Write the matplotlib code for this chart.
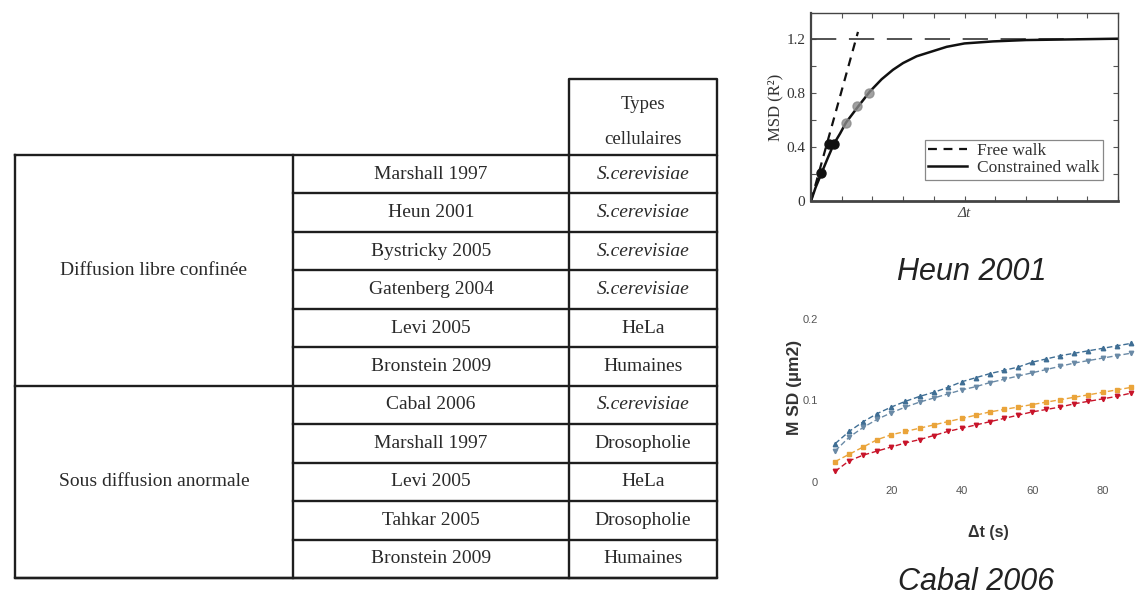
import matplotlib
matplotlib.use("Agg")
import matplotlib.pyplot as plt
from matplotlib.lines import Line2D

# ---------------- data ----------------
groups = ["Diffusion libre confinée", "Sous diffusion anormale"]
group_sizes = [6, 5]
studies = ["Marshall 1997", "Heun 2001", "Bystricky 2005", "Gatenberg 2004",
           "Levi 2005", "Bronstein 2009",
           "Cabal 2006", "Marshall 1997", "Levi 2005", "Tahkar 2005",
           "Bronstein 2009"]
cell_types = ["S.cerevisiae", "S.cerevisiae", "S.cerevisiae", "S.cerevisiae",
              "HeLa", "Humaines",
              "S.cerevisiae", "Drosopholie", "HeLa", "Drosopholie", "Humaines"]
header = "Types\ncellulaires"
italic_types = {"S.cerevisiae"}

# Heun 2001 panel
heun_t = [0, 0.15, 0.35, 0.55, 0.74, 0.95, 1.14, 1.54, 1.92, 2.3, 2.67, 3.0,
          3.44, 4.0, 4.42, 5.0, 5.93, 7.0, 8.5, 10]
heun_msd = [0, 0.10, 0.21, 0.32, 0.42, 0.50, 0.58, 0.70, 0.81, 0.90, 0.97,
            1.02, 1.07, 1.11, 1.14, 1.165, 1.18, 1.19, 1.195, 1.2]
free_t = [0, 1.53]
free_msd = [0, 1.25]
plateau = 1.2
heun_dark_t = [0.33, 0.6, 0.76]
heun_dark_msd = [0.21, 0.42, 0.42]
heun_gray_t = [1.14, 1.5, 1.9]
heun_gray_msd = [0.58, 0.70, 0.80]

# Cabal 2006 panel
cabal_t = [4, 8, 12, 16, 20, 24, 28, 32, 36, 40, 44, 48, 52, 56, 60, 64, 68,
           72, 76, 80, 84, 88]
blue_up = [0.047, 0.062, 0.074, 0.084, 0.092, 0.099, 0.105, 0.110, 0.116,
           0.123, 0.128, 0.133, 0.137, 0.141, 0.147, 0.151, 0.155, 0.158,
           0.161, 0.164, 0.167, 0.170]
blue_lo = [0.038, 0.055, 0.067, 0.077, 0.085, 0.092, 0.098, 0.103, 0.108,
           0.113, 0.117, 0.122, 0.126, 0.130, 0.134, 0.138, 0.142, 0.146,
           0.149, 0.152, 0.155, 0.158]
yellow = [0.025, 0.034, 0.043, 0.052, 0.058, 0.062, 0.066, 0.070, 0.074,
          0.078, 0.082, 0.086, 0.089, 0.092, 0.095, 0.098, 0.101, 0.104,
          0.107, 0.110, 0.113, 0.116]
red = [0.013, 0.026, 0.033, 0.038, 0.043, 0.048, 0.052, 0.057, 0.062, 0.066,
       0.070, 0.074, 0.078, 0.082, 0.086, 0.089, 0.092, 0.096, 0.099, 0.102,
       0.105, 0.109]
cabal_xticks = [20, 40, 60, 80]
cabal_yticks = [0, 0.1, 0.2]
cabal_yticklabels = ["0", "0.1", "0.2"]

# ---------------- figure ----------------
W, H = 1136, 605
fig = plt.figure(figsize=(W / 100, H / 100), dpi=100)
fig.patch.set_facecolor("white")

SERIF = ["Liberation Serif", "DejaVu Serif"]
SANS = ["Liberation Sans", "DejaVu Sans"]

# ---- table (pixel coordinates) ----
ax_t = fig.add_axes([0, 0, 1, 1])
ax_t.set_xlim(0, W)
ax_t.set_ylim(H, 0)
ax_t.axis("off")

x_left, x_c1, x_c2, x_right = 15, 293, 569, 717
y_top, y_head = 155, 79
n_rows = len(studies)
row_h = (578 - y_top) / n_rows
lc, lw = "#1e1e1e", 1.7
y_bot = y_top + n_rows * row_h
tc = "#2a2a2a"

# outer frame
ax_t.plot([x_left, x_right, x_right, x_left, x_left],
          [y_top, y_top, y_bot, y_bot, y_top], color=lc, lw=lw)
# header box
ax_t.plot([x_c2, x_c2, x_right, x_right], [y_top, y_head, y_head, y_top],
          color=lc, lw=lw)
ax_t.text((x_c2 + x_right) / 2, (y_head + y_top) / 2 + 5, header,
          ha="center", va="center", family=SERIF, fontsize=13.5,
          color=tc, linespacing=2.35)
# column separators
for xc in (x_c1, x_c2):
    ax_t.plot([xc, xc], [y_top, y_bot], color=lc, lw=lw)
# rows
start = 0
for g, size in zip(groups, group_sizes):
    gy0 = y_top + start * row_h
    gy1 = gy0 + size * row_h
    ax_t.plot([x_left, x_right], [gy1, gy1], color=lc, lw=lw)
    ax_t.text((x_left + x_c1) / 2, (gy0 + gy1) / 2, g, ha="center",
              va="center", family=SERIF, fontsize=14, color=tc)
    for i in range(start, start + size):
        ry0 = y_top + i * row_h
        ry1 = ry0 + row_h
        if i < start + size - 1:
            ax_t.plot([x_c1, x_right], [ry1, ry1], color=lc, lw=lw)
        ax_t.text((x_c1 + x_c2) / 2, (ry0 + ry1) / 2, studies[i],
                  ha="center", va="center", family=SERIF, fontsize=14,
                  color=tc)
        ct = cell_types[i]
        ax_t.text((x_c2 + x_right) / 2, (ry0 + ry1) / 2, ct,
                  ha="center", va="center", family=SERIF, fontsize=14,
                  color=tc,
                  style="italic" if ct in italic_types else "normal")
    start += size

# ---- Heun 2001 panel ----
ax_h = fig.add_axes([811 / W, 1 - 201 / H, 307 / W, 188 / H])
ax_h.set_xlim(0, 10)
ax_h.set_ylim(0, 1.39)
ax_h.axhline(plateau, color="#444", lw=1.3, dashes=(14, 7))
ax_h.plot(free_t, free_msd, color="#111", lw=1.6, dashes=(4, 3))
ax_h.plot(heun_t, heun_msd, color="#111", lw=1.8)
ax_h.plot(heun_dark_t, heun_dark_msd, "o", color="#111", ms=6.5)
ax_h.plot(heun_gray_t, heun_gray_msd, "o", color="#8a8a8a", ms=6.5,
          alpha=0.8)
ax_h.set_yticks([0, 0.4, 0.8, 1.2])
ax_h.set_yticklabels(["0", "0.4", "0.8", "1.2"], family=SERIF, fontsize=11,
                     color="#333")
ax_h.set_yticks([0.2, 0.6, 1.0], minor=True)
ax_h.set_xticks(range(0, 11))
ax_h.set_xticklabels([])
ax_h.tick_params(direction="in", length=3.5, width=0.8, top=True, right=True,
                 which="both", colors="#555", labelcolor="#333", pad=4)
for s in ax_h.spines.values():
    s.set_color("#444")
    s.set_linewidth(1.0)
ax_h.spines["bottom"].set_linewidth(2.0)
ax_h.spines["left"].set_linewidth(1.6)
ax_h.set_ylabel("MSD (R²)", family=SERIF, fontsize=12, color="#333",
                labelpad=2)
ax_h.set_xlabel("Δt", family=SERIF, style="italic", fontsize=11,
                color="#444", labelpad=0)
handles = [Line2D([], [], color="#111", lw=1.6, dashes=(4, 3)),
           Line2D([], [], color="#111", lw=1.8)]
leg = ax_h.legend(handles, ["Free walk", "Constrained walk"],
                  loc="lower right", bbox_to_anchor=(0.951, 0.112),
                  borderaxespad=0, fancybox=False, framealpha=1,
                  edgecolor="#888", handlelength=2.2,
                  prop={"family": SERIF, "size": 12.5}, borderpad=0.2,
                  labelspacing=0.05, handletextpad=0.6)
leg.get_frame().set_linewidth(0.9)
for t in leg.get_texts():
    t.set_color("#333")

fig.text(972 / W, 1 - 272 / H, "Heun 2001", ha="center", va="center",
         family=SANS, style="italic", fontsize=22, color="#222")

# ---- Cabal 2006 panel ----
ax_c = fig.add_axes([821 / W, 1 - 482 / H, 315 / W, 163 / H])
ax_c.set_xlim(0, 89.5)
ax_c.set_ylim(0, 0.2)
for s in ax_c.spines.values():
    s.set_visible(False)
series = [(blue_up, "#3f6e94", "^"), (blue_lo, "#6a8aa6", "v"),
          (yellow, "#eaa43a", "s"), (red, "#c8142a", "v")]
for vals, col, mk in series:
    ax_c.plot(cabal_t, vals, color=col, lw=1.0, ls=(0, (4, 2)), marker=mk,
              ms=3.2, mfc=col, mec=col, clip_on=False)
ax_c.set_xticks(cabal_xticks)
ax_c.set_xticklabels([str(v) for v in cabal_xticks], family=SANS,
                     fontsize=8, color="#555")
ax_c.set_yticks(cabal_yticks)
ax_c.set_yticklabels(cabal_yticklabels, family=SANS, fontsize=8,
                     color="#555")
ax_c.tick_params(length=0, pad=3)
ax_c.tick_params(axis="y", pad=2)
ax_c.text((988 - 821) / 315, -(533 - 482) / 163, "Δt (s)",
          transform=ax_c.transAxes, ha="center", va="center", family=SANS,
          fontweight="bold", fontsize=11.5, color="#333")
ax_c.text((795 - 821) / 315, (482 - 387) / 163, "M SD (µm2)",
          transform=ax_c.transAxes, ha="center", va="center", rotation=90,
          family=SANS, fontweight="bold", fontsize=12.5, color="#333")

fig.text(976 / W, 1 - 582 / H, "Cabal 2006", ha="center", va="center",
         family=SANS, style="italic", fontsize=22, color="#222")

fig.savefig("out.png", dpi=100, facecolor="white")
